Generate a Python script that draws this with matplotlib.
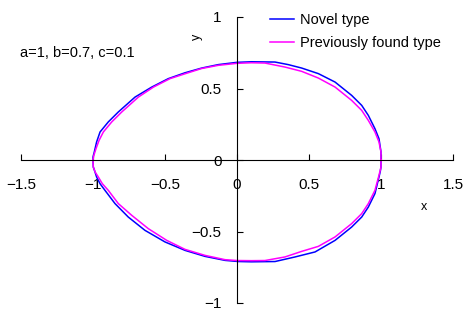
import matplotlib
matplotlib.use("Agg")
import matplotlib.pyplot as plt

plt.rcParams['font.family'] = ['Liberation Sans', 'DejaVu Sans']

# Novel type (blue), counter-clockwise from (1, 0)
novel_x = [1.0, 1.0, 0.993, 0.986, 0.958, 0.912, 0.866, 0.796, 0.681, 0.565, 0.449, 0.356, 0.264,
           0.1, 0.0, -0.13, -0.245, -0.361, -0.477, -0.592, -0.708, -0.824, -0.894, -0.951, -0.975,
           -0.991, -1.0, -1.0,
           -0.998, -0.986, -0.975, -0.951, -0.917, -0.847, -0.755, -0.639, -0.5, -0.361, -0.222,
           -0.083, 0.01, 0.1, 0.264, 0.403, 0.542, 0.681, 0.796, 0.866, 0.912, 0.958, 0.986,
           0.995, 1.0, 1.0]
novel_y = [0.0, 0.056, 0.103, 0.149, 0.219, 0.312, 0.382, 0.452, 0.545, 0.604, 0.643, 0.667, 0.685,
           0.687, 0.683, 0.667, 0.643, 0.61, 0.569, 0.51, 0.44, 0.336, 0.266, 0.196, 0.126,
           0.056, 0.02, 0.0,
           -0.049, -0.084, -0.119, -0.166, -0.212, -0.305, -0.399, -0.492, -0.573, -0.632, -0.674,
           -0.702, -0.71, -0.712, -0.71, -0.678, -0.643, -0.562, -0.469, -0.399, -0.329, -0.235, -0.119,
           -0.08, -0.049, 0.0]

# Previously found type (magenta)
prev_x = [1.0, 1.0, 0.993, 0.986, 0.958, 0.912, 0.866, 0.796, 0.681, 0.565, 0.449, 0.333, 0.194,
          0.1, 0.0, -0.13, -0.245, -0.361, -0.465, -0.58, -0.685, -0.80, -0.87, -0.928, -0.958,
          -0.979, -0.995, -1.0,
          -0.998, -0.985, -0.963, -0.935, -0.894, -0.824, -0.731, -0.616, -0.488, -0.361, -0.222,
          -0.083, 0.0, 0.1, 0.194, 0.333, 0.449, 0.565, 0.681, 0.796, 0.866, 0.912, 0.958, 0.986,
          0.995, 1.0, 1.0]
prev_y = [0.0, 0.056, 0.09, 0.126, 0.196, 0.277, 0.347, 0.417, 0.51, 0.573, 0.62, 0.65, 0.678,
          0.68, 0.676, 0.662, 0.64, 0.603, 0.569, 0.51, 0.44, 0.336, 0.266, 0.196, 0.137,
          0.08, 0.03, 0.0,
          -0.049, -0.084, -0.119, -0.166, -0.212, -0.305, -0.387, -0.48, -0.562, -0.625, -0.667,
          -0.697, -0.703, -0.704, -0.703, -0.678, -0.639, -0.604, -0.538, -0.445, -0.375, -0.305,
          -0.212, -0.107, -0.07, -0.049, 0.0]

x_ticks = [-1.5, -1, -0.5, 0, 0.5, 1, 1.5]
x_tick_labels = ['\u22121.5', '\u22121', '\u22120.5', '0', '0.5', '1', '1.5']
y_ticks = [-1, -0.5, 0, 0.5, 1]
y_tick_labels = ['\u22121', '\u22120.5', '0', '0.5', '1']

fig = plt.figure(figsize=(4.74, 3.2), dpi=100)
ax = fig.add_axes([21 / 474, 1 - 303 / 320, 432 / 474, 286 / 320])

ax.plot(novel_x, novel_y, color='#0000FF', linewidth=1.1, label='Novel type')
ax.plot(prev_x, prev_y, color='#FF00FF', linewidth=1.1, label='Previously found type')

ax.set_xlim(-1.5, 1.5)
ax.set_ylim(-1, 1)
ax.set_xticks(x_ticks)
ax.set_xticklabels(x_tick_labels)
ax.set_yticks(y_ticks)
ax.set_yticklabels(y_tick_labels)

for side in ['top', 'right']:
    ax.spines[side].set_visible(False)
ax.spines['left'].set_position(('data', 0))
ax.spines['bottom'].set_position(('data', 0))
ax.tick_params(axis='x', direction='in', length=4, pad=13, labelsize=11)
ax.tick_params(axis='y', direction='in', length=4, pad=11, labelsize=11)

ax.text(1.3, -0.33, 'x', fontsize=9, ha='center', va='center')
ax.text(-0.28, 0.86, 'y', fontsize=9, ha='center', va='center', rotation=90)
ax.text(-1.505, 0.75, 'a=1, b=0.7, c=0.1', fontsize=10.5, ha='left', va='center')

ax.legend(loc='upper left', bbox_to_anchor=(0.562, 1.035), frameon=False, fontsize=10.5,
          handlelength=1.7, handletextpad=0.4, labelspacing=0.65, borderaxespad=0)

fig.savefig('out.png', dpi=100)
